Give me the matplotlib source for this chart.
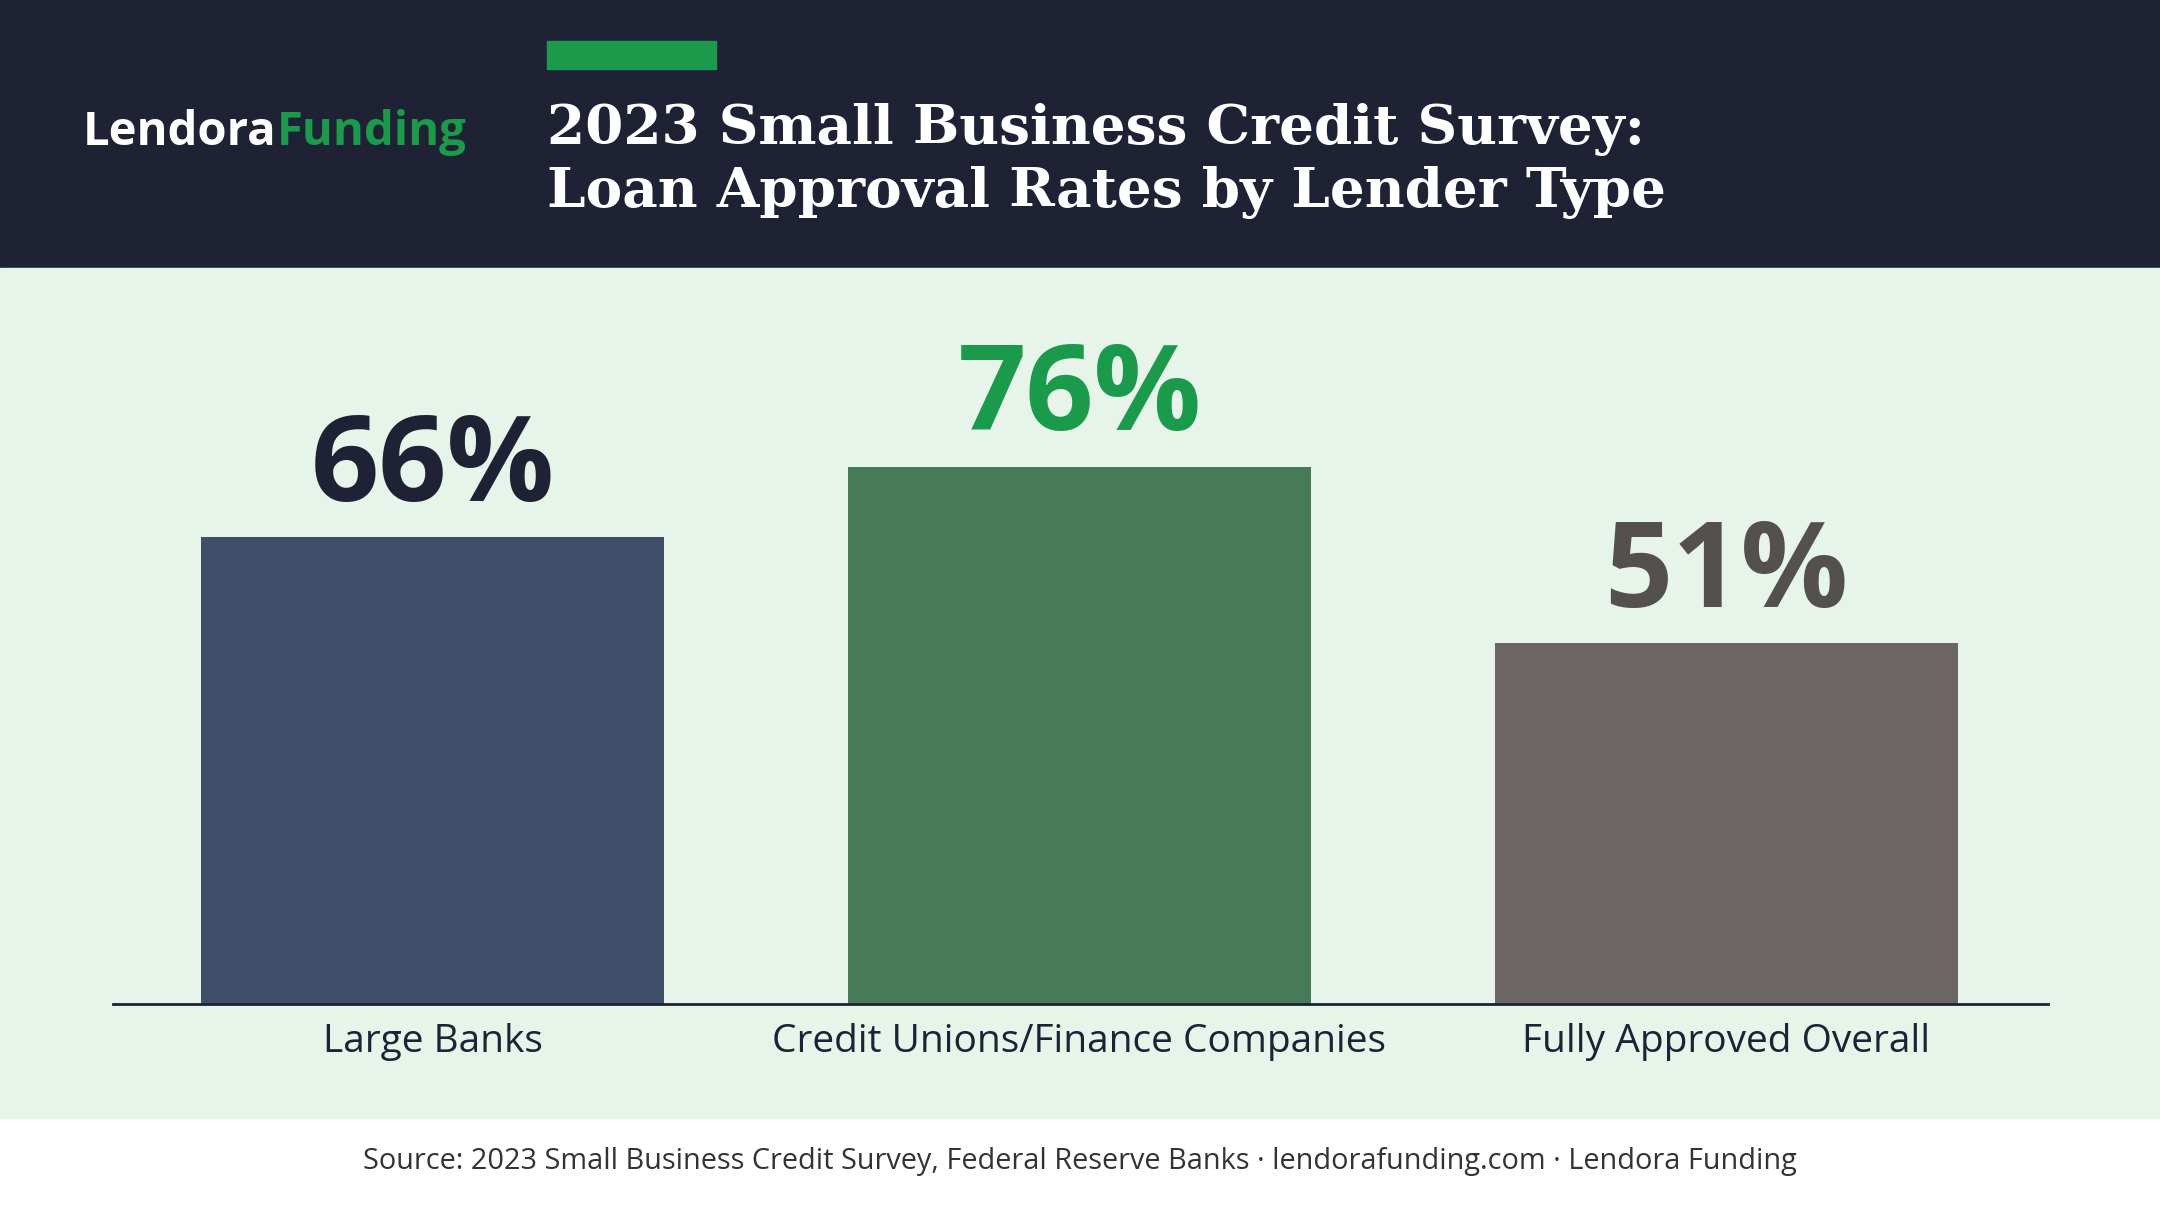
import matplotlib
matplotlib.use("Agg")
import matplotlib.pyplot as plt
from matplotlib.patches import Rectangle

categories = ["Large Banks", "Credit Unions/Finance Companies", "Fully Approved Overall"]
values = [66, 76, 51]
bar_colors = ["#3f4f69", "#477b58", "#6b6565"]
label_colors = ["#1f2235", "#1a9a4a", "#555050"]
title = "2023 Small Business Credit Survey:\nLoan Approval Rates by Lender Type"
source = "Source: 2023 Small Business Credit Survey, Federal Reserve Banks · lendorafunding.com · Lendora Funding"

W, H = 1568, 876
def fx(x): return x / W
def fy(y): return 1 - y / H

fig = plt.figure(figsize=(21.6, 12.06), dpi=100)
fig.patch.set_facecolor("white")
fig.patches.append(Rectangle((0, fy(195)), 1, 195 / H, transform=fig.transFigure, color="#1f2235", zorder=-10))
fig.patches.append(Rectangle((0, fy(812)), 1, (812 - 195) / H, transform=fig.transFigure, color="#e6f4ea", zorder=-10))
fig.patches.append(Rectangle((fx(397), fy(50)), fx(520) - fx(397), 20 / H, transform=fig.transFigure, color="#1a9a4a", zorder=-5))

t = fig.text(fx(60), fy(96), "Lendora", color="white", fontsize=34, fontweight="bold", family="Open Sans", va="center", ha="left")
fig.canvas.draw()
bb = t.get_window_extent()
fig.text(bb.x1 / fig.bbox.width, fy(96), "Funding", color="#1a9a4a", fontsize=34, fontweight="bold", family="Open Sans", va="center", ha="left")

fig.text(fx(397), fy(117), title, color="white", fontsize=39.5, fontweight="bold", family="DejaVu Serif", va="center", ha="left", linespacing=1.25)

ax = fig.add_axes([fx(82), fy(729), fx(1487) - fx(82), 513 / H])
ax.set_facecolor("none")
x = list(range(len(values)))
ax.bar(x, values, width=0.715, color=bar_colors, zorder=2)
ax.set_xlim(-0.494, 2.498)
ax.set_ylim(0, 100)
for s in ["top", "right", "left"]:
    ax.spines[s].set_visible(False)
ax.spines["bottom"].set_color("#1f2235")
ax.spines["bottom"].set_linewidth(2)
ax.set_yticks([])
ax.set_xticks(x)
ax.set_xticklabels(categories, fontsize=28, color="#1f2235", family="Open Sans")
ax.tick_params(axis="x", length=0, pad=14)
for i, v in enumerate(values):
    ax.text(i, v + 1.2, f"{v}%", ha="center", va="bottom", fontsize=86, fontweight="bold",
            color=label_colors[i], family="Open Sans")

fig.text(0.5, fy(844), source, ha="center", va="center", fontsize=20.8, color="#333333", family="Open Sans")
fig.savefig("out.png", dpi=100)
